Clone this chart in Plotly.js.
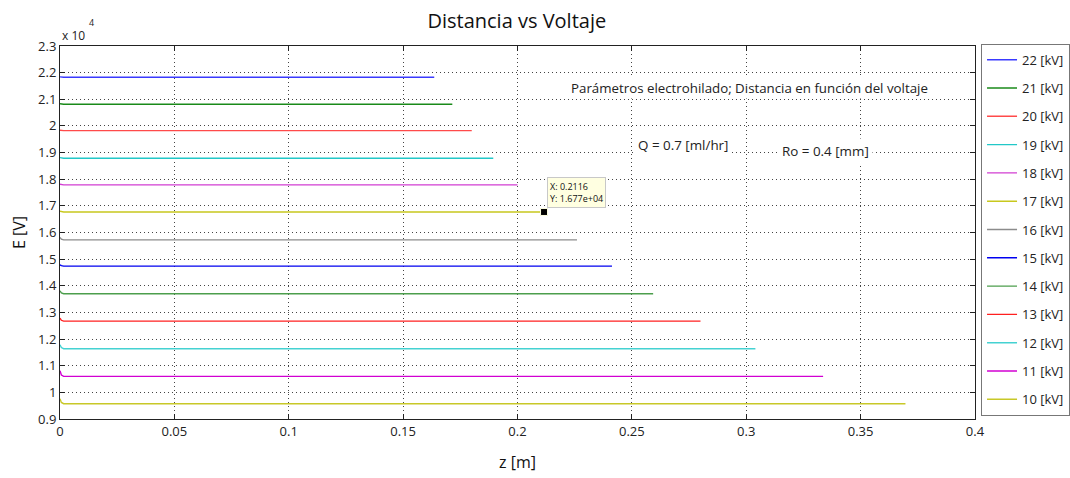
<!DOCTYPE html>
<html>
<head>
<meta charset="utf-8">
<script src="https://cdn.plot.ly/plotly-3.0.1.min.js"></script>
<style>html,body{margin:0;padding:0;background:#fff;}#chart{width:1070px;height:478px;}</style>
</head>
<body>
<div id="chart"></div>
<script>
// Voltages (kV) in legend order
const voltages = [22, 21, 20, 19, 18, 17, 16, 15, 14, 13, 12, 11, 10];
// Field E [V] at z = 0, small initial drop, then steady value
const eStart = [21840, 20830, 19840, 18810, 17810, 16800, 15812, 14787, 13812, 12787, 11787, 10812, 9762];
const eMid   = [21830, 20818, 19830, 18795, 17795, 16780, 15750, 14755, 13730, 12705, 11680, 10650, 9620];
const eFlat  = [21825, 20812, 19825, 18787, 17787, 16770, 15725, 14737, 13700, 12675, 11637, 10600, 9575];
// z positions [m]: start, hook points, end of each line
const zHook = [0, 0.0006, 0.0016];
const zEnd  = [0.1636, 0.1715, 0.1800, 0.1894, 0.2000, 0.2116, 0.2260, 0.2413, 0.2593, 0.2800, 0.3040, 0.3336, 0.3696];
const colors = ['#3a3aff', '#1a8a1a', '#ff4a4a', '#22c8c8', '#d23ed2', '#c8c81e', '#8c8c8c',
                '#0000f0', '#4c9e4c', '#ff2020', '#44d2d2', '#d200d2', '#c8c828'];
// y tick labels (scaled by 10^4)
const yTickVals = [9000, 10000, 11000, 12000, 13000, 14000, 15000, 16000, 17000, 18000, 19000, 20000, 21000, 22000, 23000];
const yTickText = ['0.9', '1', '1.1', '1.2', '1.3', '1.4', '1.5', '1.6', '1.7', '1.8', '1.9', '2', '2.1', '2.2', '2.3'];
const xTickVals = [0, 0.05, 0.1, 0.15, 0.2, 0.25, 0.3, 0.35, 0.4];
const xTickText = ['0', '0.05', '0.1', '0.15', '0.2', '0.25', '0.3', '0.35', '0.4'];
// Data tip
const tipX = 0.2116, tipY = 16770;

const FONT = 'Open Sans, Noto Sans, sans-serif';

const traces = voltages.map((v, i) => ({
  type: 'scatter', mode: 'lines',
  x: [zHook[0], zHook[1], zHook[2], zEnd[i]],
  y: [eStart[i], eMid[i], eFlat[i], eFlat[i]],
  name: v + ' [kV]',
  legendgroup: 'g' + i,
  line: {color: colors[i], width: 1.4},
  hoverinfo: 'skip'
}));

traces.push({
  type: 'scatter', mode: 'markers',
  x: [tipX], y: [tipY], showlegend: false, hoverinfo: 'skip',
  marker: {symbol: 'square', size: 7, color: '#000', line: {color: '#ffffe1', width: 1}}
});

const layout = {
  width: 1070, height: 478,
  margin: {l: 60, r: 95, t: 46, b: 59, autoexpand: false},
  paper_bgcolor: '#fff', plot_bgcolor: '#fff',
  font: {family: FONT, size: 12, color: '#222'},
  title: {text: 'Distancia vs Voltaje', x: 0.483, xanchor: 'center', y: 0.957, yanchor: 'middle',
          font: {family: FONT, size: 20, color: '#111'}},
  showlegend: true,
  legend: {x: 1.0066, xanchor: 'left', y: 1.006, yanchor: 'top',
           bordercolor: '#777', borderwidth: 1, bgcolor: '#fff',
           font: {family: FONT, size: 13, color: '#222'},
           tracegroupgap: 8.4, itemwidth: 30, maxheight: 470},
  xaxis: {
    range: [0, 0.4], tickvals: xTickVals, ticktext: xTickText,
    showgrid: true, gridcolor: '#444', griddash: '1px,3px', gridwidth: 1,
    zeroline: false, showline: true, linecolor: '#222', linewidth: 1, mirror: 'ticks',
    ticks: 'inside', ticklen: 5, tickcolor: '#222',
    tickfont: {family: FONT, size: 13, color: '#222'},
    title: {text: 'z [m]', font: {family: FONT, size: 16, color: '#111'}, standoff: 18}
  },
  yaxis: {
    range: [9000, 23000], tickvals: yTickVals, ticktext: yTickText,
    showgrid: true, gridcolor: '#444', griddash: '1px,3px', gridwidth: 1,
    zeroline: false, showline: true, linecolor: '#222', linewidth: 1, mirror: 'ticks',
    ticks: 'inside', ticklen: 5, tickcolor: '#222',
    tickfont: {family: FONT, size: 13, color: '#222'},
    title: {text: 'E [V]', font: {family: FONT, size: 16, color: '#111'}, standoff: 8}
  },
  annotations: [
    {xref: 'paper', yref: 'paper', x: 0, y: 1.0, xanchor: 'left', yanchor: 'bottom',
     text: 'x 10', showarrow: false, font: {family: FONT, size: 12, color: '#222'}},
    {xref: 'paper', yref: 'paper', x: 0.029, y: 1.04, xanchor: 'left', yanchor: 'bottom',
     text: '4', showarrow: false, font: {family: FONT, size: 9, color: '#222'}},
    {xref: 'paper', yref: 'paper', x: 0.951, y: 0.888, xanchor: 'right', yanchor: 'middle',
     text: 'Parámetros electrohilado; Distancia en función del voltaje', showarrow: false,
     bgcolor: '#fff', font: {family: FONT, size: 13.3, color: '#222'}},
    {xref: 'paper', yref: 'paper', x: 0.627, y: 0.734, xanchor: 'left', yanchor: 'middle',
     text: 'Q = 0.7 [ml/hr]', showarrow: false, bgcolor: '#fff', borderpad: 3,
     font: {family: FONT, size: 13.4, color: '#222'}},
    {xref: 'paper', yref: 'paper', x: 0.785, y: 0.718, xanchor: 'left', yanchor: 'middle',
     text: 'Ro = 0.4 [mm]', showarrow: false, bgcolor: '#fff', borderpad: 3,
     font: {family: FONT, size: 13.4, color: '#222'}},
    {xref: 'x', yref: 'y', x: tipX, y: tipY, xanchor: 'left', yanchor: 'bottom',
     xshift: 3, yshift: 4, showarrow: false, align: 'left',
     text: 'X: 0.2116<br>Y: 1.677e+04', bgcolor: '#ffffe1', bordercolor: '#c8c8c8', borderwidth: 1, borderpad: 2,
     font: {family: FONT, size: 9, color: '#111'}}
  ]
};

Plotly.newPlot('chart', traces, layout, {staticPlot: true, displayModeBar: false});
</script>
</body>
</html>
